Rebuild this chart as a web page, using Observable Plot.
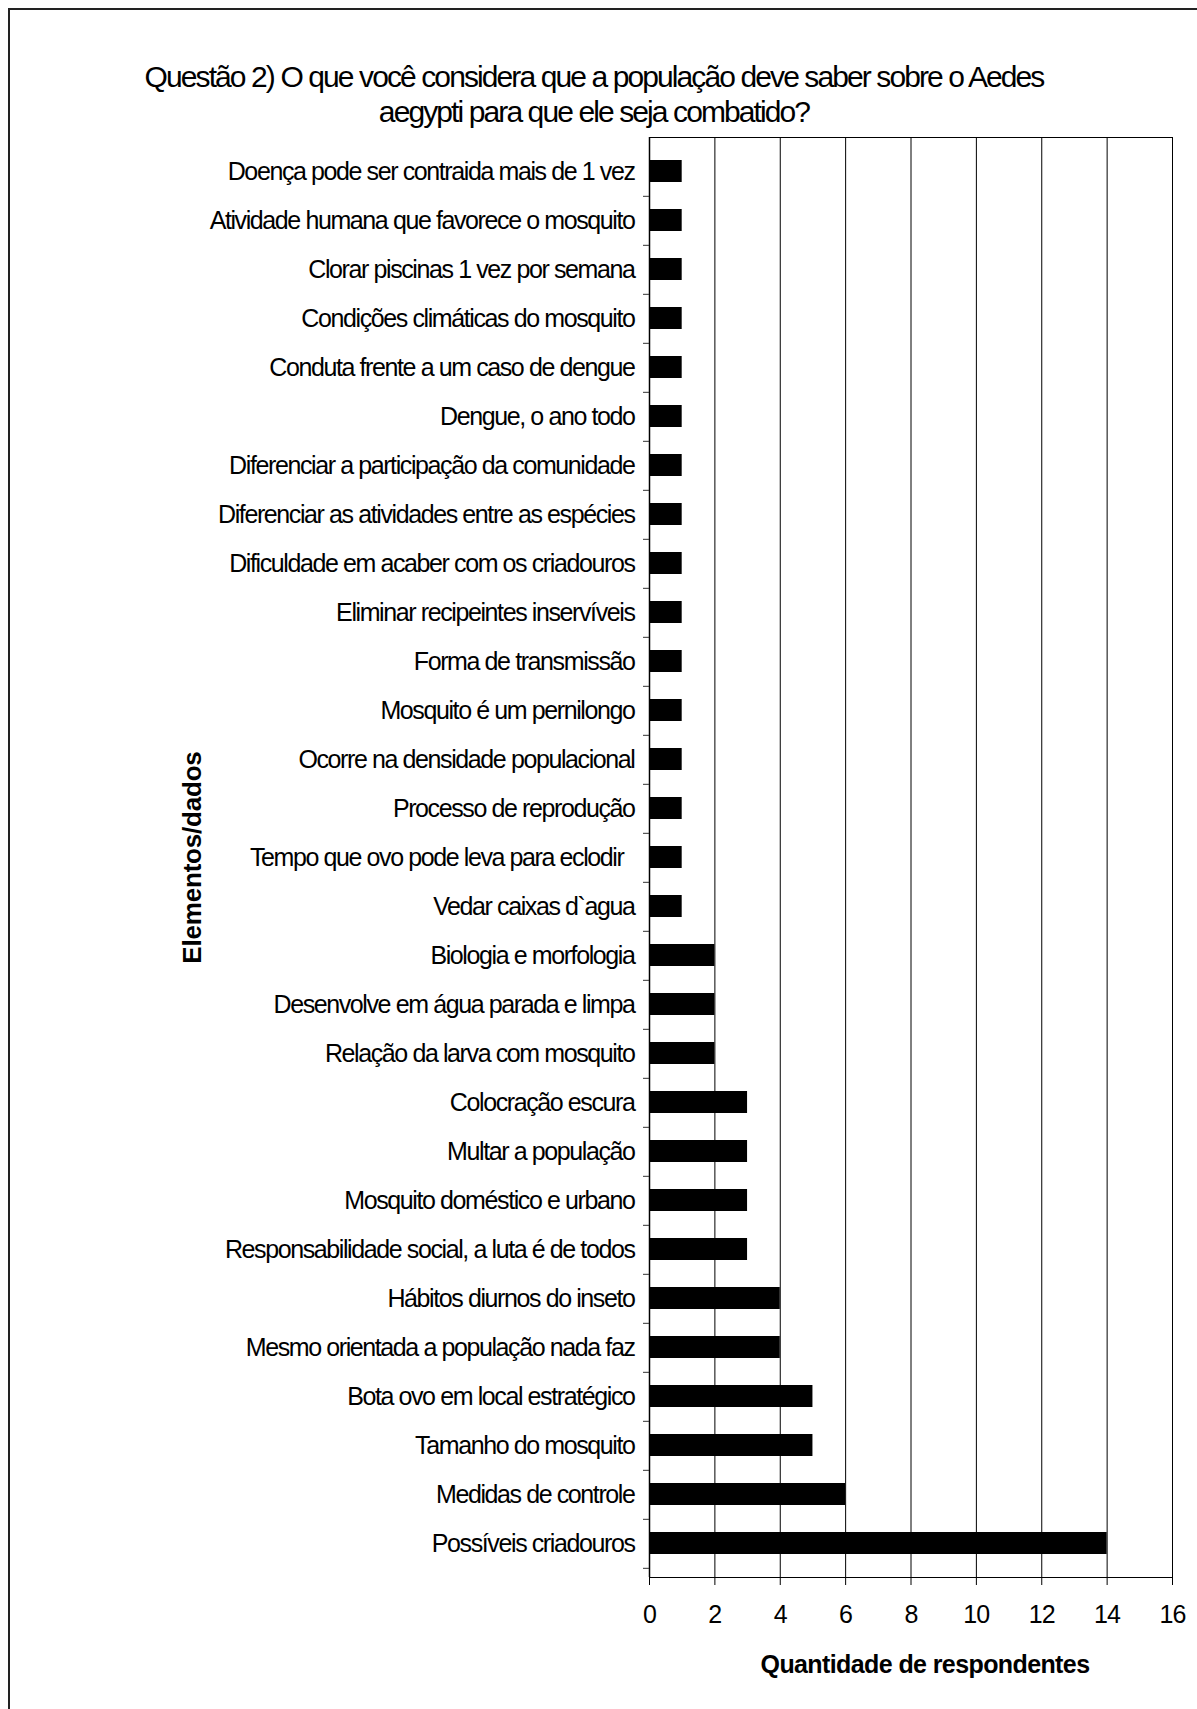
<!DOCTYPE html>
<html>
<head>
<meta charset="utf-8">
<script src="https://cdn.jsdelivr.net/npm/d3@7"></script>
<script src="https://cdn.jsdelivr.net/npm/@observablehq/plot@0.6"></script>
<style>
  html, body { margin: 0; padding: 0; background: #fff; overflow: hidden; }
  body { width: 1197px; height: 1709px; position: relative; font-family: "Liberation Sans", Arial, sans-serif; }
  #border { position: absolute; z-index: 2; left: 8px; top: 8px; width: 1200px; height: 1710px; border-left: 2px solid #222; border-top: 2px solid #222; pointer-events: none; }
  #title { position: absolute; z-index: 1; left: 0; top: 59px; width: 1188px; text-align: center; font-size: 30px; line-height: 35px; letter-spacing: -1.9px; color: #000; }
  #chart { position: absolute; left: 0; top: 125px; }
  #chart svg g[aria-label="y-axis tick label"] text { letter-spacing: -1.4px; }
  #chart svg g[aria-label="x-axis tick label"] text { letter-spacing: -0.8px; }
</style>
</head>
<body>
<div id="border"></div>
<div id="title">Questão 2) O que você considera que a população deve saber sobre o Aedes<br>aegypti para que ele seja combatido?</div>
<div id="chart"></div>
<script>
// Answers, listed top to bottom as drawn
const categories = [
  "Doença pode ser contraida mais de 1 vez",
  "Atividade humana que favorece o mosquito",
  "Clorar piscinas 1 vez por semana",
  "Condições climáticas do mosquito",
  "Conduta frente a um caso de dengue",
  "Dengue, o ano todo",
  "Diferenciar a participação da comunidade",
  "Diferenciar as atividades entre as espécies",
  "Dificuldade em acaber com os criadouros",
  "Eliminar recipeintes inservíveis",
  "Forma de transmissão",
  "Mosquito é um pernilongo",
  "Ocorre na densidade populacional",
  "Processo de reprodução",
  "Tempo que ovo pode leva para eclodir\u00a0\u00a0",
  "Vedar caixas d`agua",
  "Biologia e morfologia",
  "Desenvolve em água parada e limpa",
  "Relação da larva com mosquito",
  "Colocração escura",
  "Multar a população",
  "Mosquito doméstico e urbano",
  "Responsabilidade social, a luta é de todos",
  "Hábitos diurnos do inseto",
  "Mesmo orientada a população nada faz",
  "Bota ovo em local estratégico",
  "Tamanho do mosquito",
  "Medidas de controle",
  "Possíveis criadouros"
];
// Number of respondents per answer
const respondents = [1,1,1,1,1,1,1,1,1,1,1,1,1,1,1,1,2,2,2,3,3,3,3,4,4,5,5,6,14];
const xTicks = [0, 2, 4, 6, 8, 10, 12, 14, 16];
const xGrid = [2, 4, 6, 8, 10, 12, 14, 16];
const xLabel = "Quantidade de respondentes";
const yLabel = "Elementos/dados";

const rows = categories.map((c, i) => ({category: c, value: respondents[i]}));

const W = 1197, H = 1584;
const M = {top: 12, right: 25, bottom: 132, left: 649};
const step = (H - M.top - M.bottom) / categories.length;
const font = "'Liberation Sans', Arial, sans-serif";

const chart = Plot.plot({
  width: W,
  height: H,
  marginTop: M.top,
  marginRight: M.right,
  marginBottom: M.bottom,
  marginLeft: M.left,
  style: {fontFamily: font, color: "#000", background: "transparent"},
  x: {domain: [0, 16]},
  y: {domain: categories, paddingInner: 0.55, paddingOuter: 0.275},
  marks: [
    Plot.gridX(xGrid, {stroke: "#000", strokeOpacity: 1, strokeWidth: 1}),
    Plot.barX(rows, {x: "value", y: "category", fill: "#000"}),
    Plot.frame({stroke: "#000", strokeWidth: 1}),
    Plot.ruleX([0], {stroke: "#000", strokeWidth: 1.5}),
    Plot.ruleY([0], {frameAnchor: "bottom", stroke: "#000", strokeWidth: 1.5}),
    Plot.axisX({ticks: xTicks, tickSize: 8, tickPadding: 20, fontSize: 25, label: null, stroke: "#000"}),
    Plot.axisY({tickSize: 0, tickPadding: 15, fontSize: 25, label: null}),
    Plot.axisY({tickSize: 6, tickFormat: () => "", label: null, dy: step / 2, stroke: "#333"}),
    Plot.text([xLabel], {frameAnchor: "bottom", dy: 95, dx: 14, fontSize: 25, fontWeight: "bold", fill: "#000"}),
    Plot.text([yLabel], {frameAnchor: "left", textAnchor: "middle", dx: -457, rotate: -90, fontSize: 26, fontWeight: "bold", fill: "#000"})
  ]
});

// tighter tracking on the bold axis titles
d3.select(chart).selectAll("text")
  .filter(function() { return this.textContent === xLabel; })
  .style("letter-spacing", "-0.6px");
d3.select(chart).selectAll("text")
  .filter(function() { return this.textContent === yLabel; })
  .style("letter-spacing", "-0.2px");

document.getElementById("chart").appendChild(chart);
</script>
</body>
</html>
